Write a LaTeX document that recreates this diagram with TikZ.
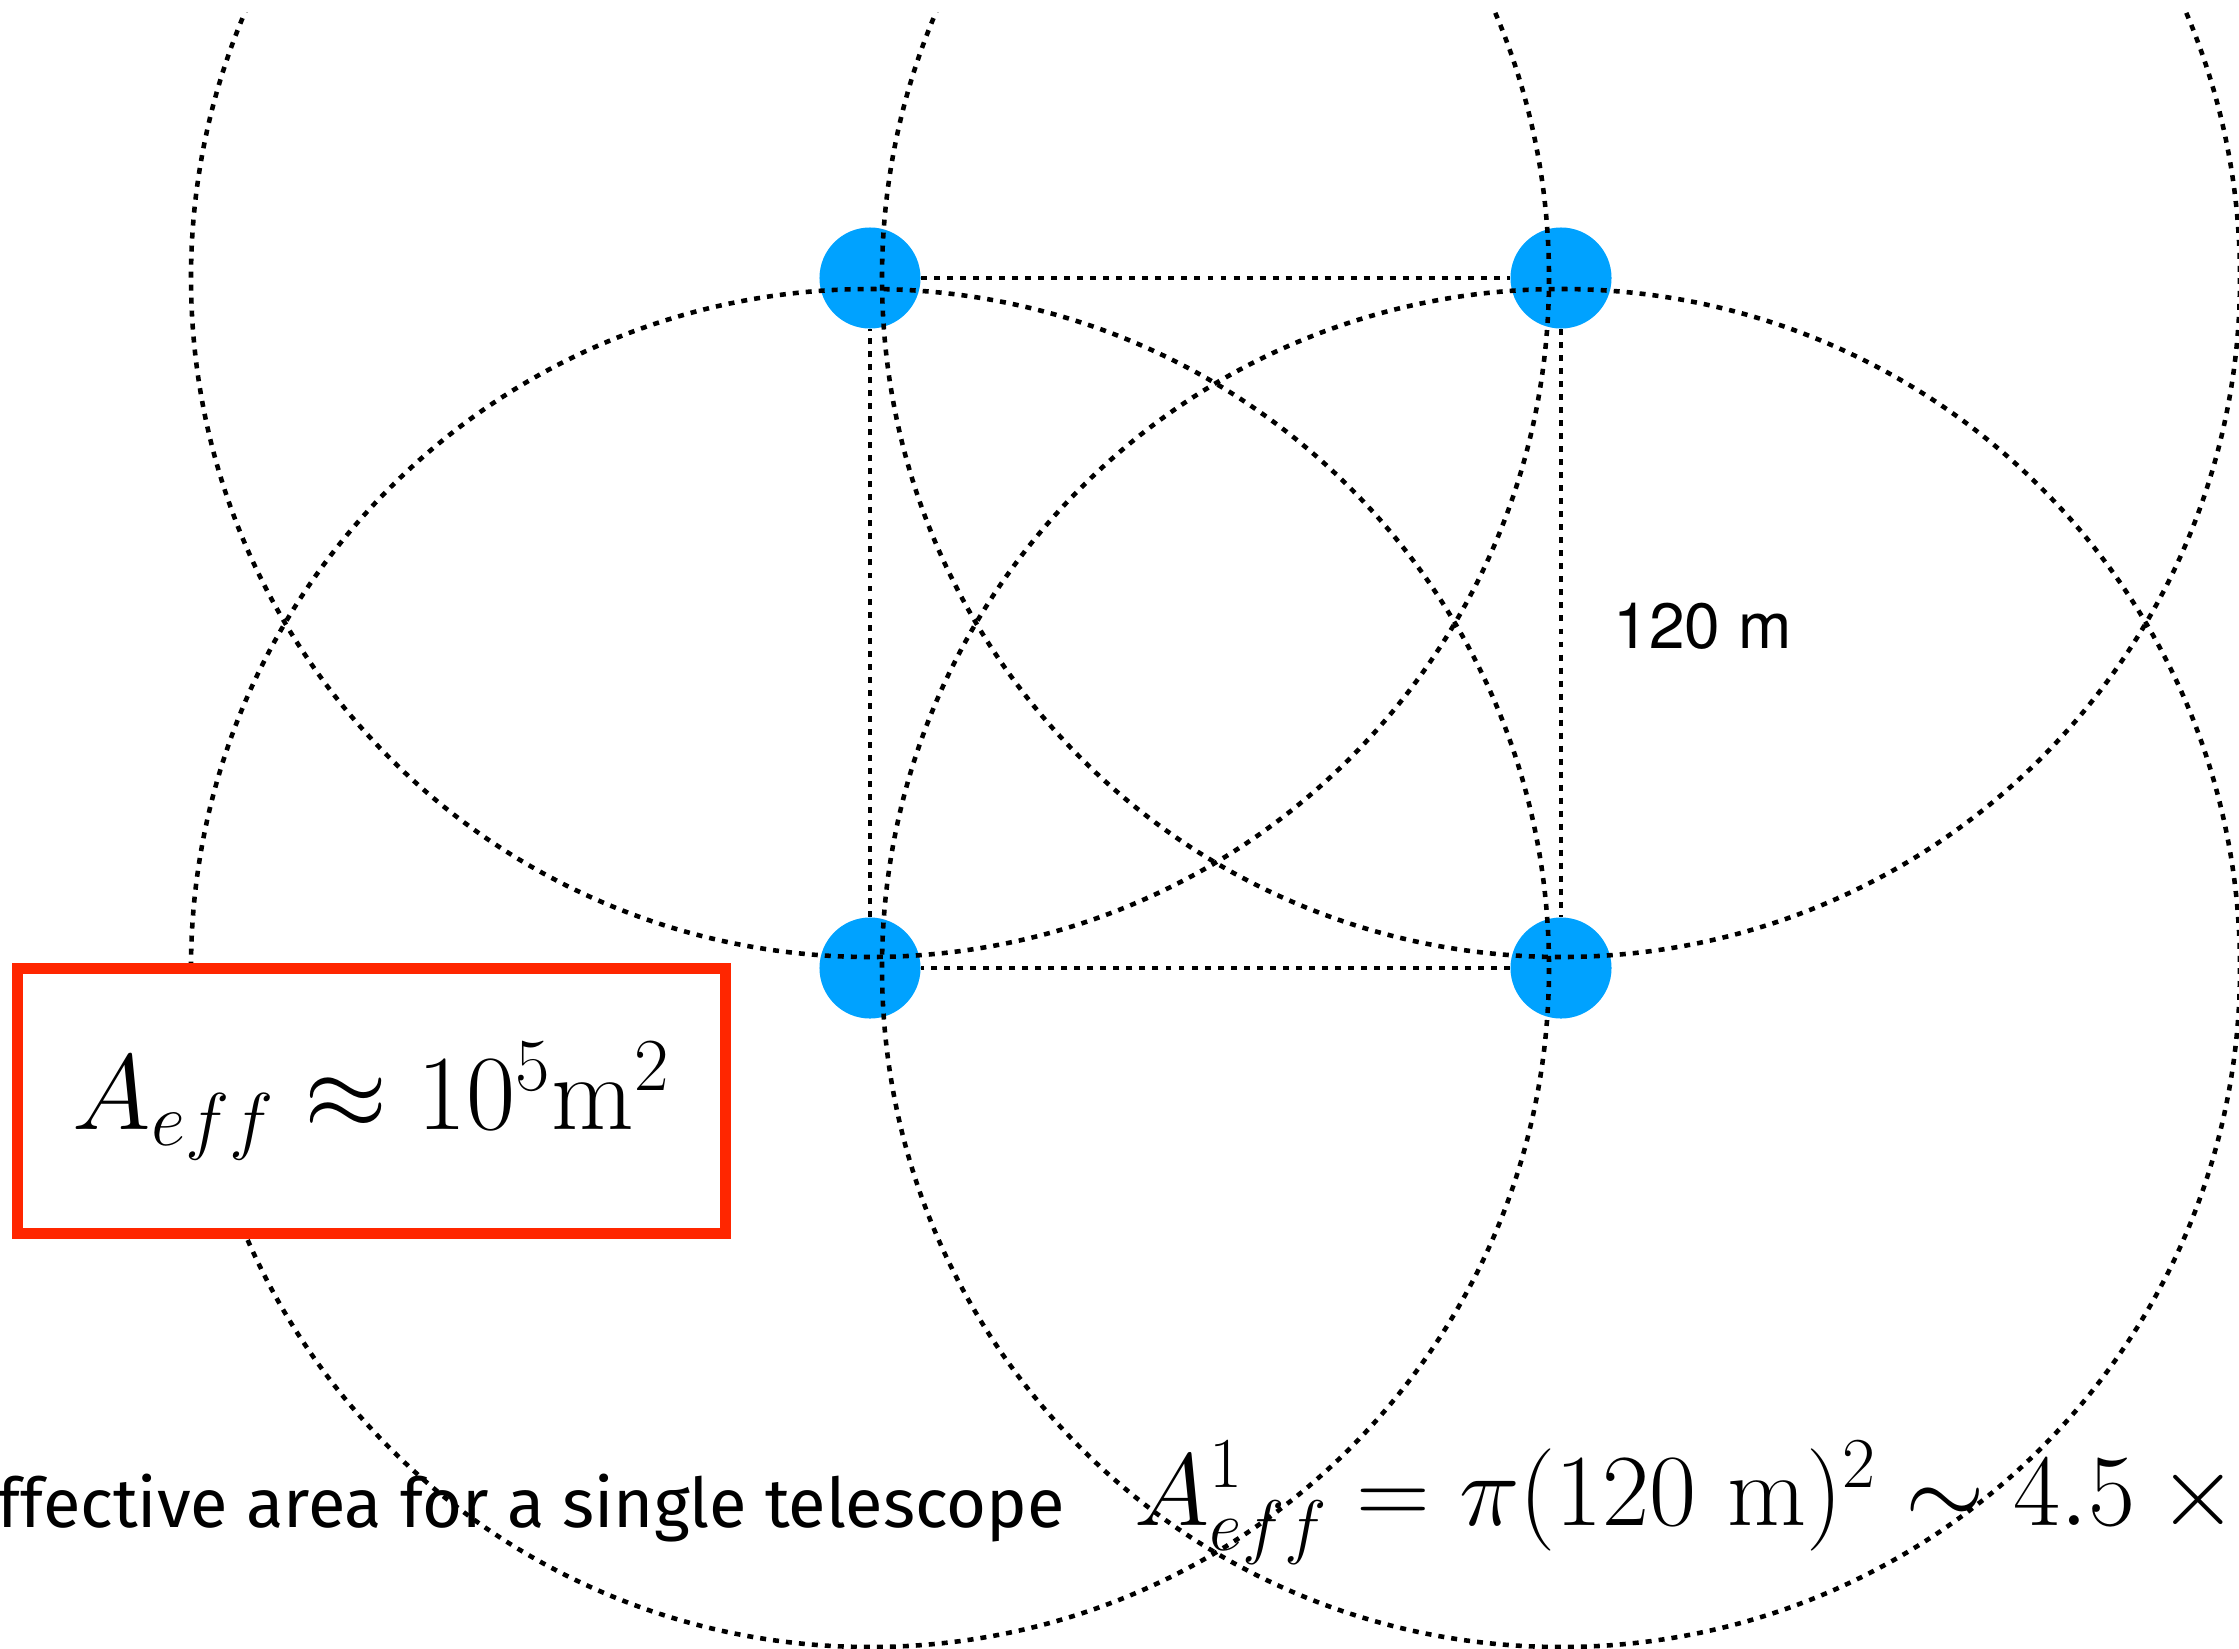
\RequirePackage{fix-cm}
\documentclass[tikz,border=0pt]{standalone}
\usepackage{fontspec}
\newfontfamily\helv{TeX Gyre Heros}
\newfontfamily\handfont{Fira Sans}
\definecolor{scopeblue}{HTML}{00A2FF}
\definecolor{boxred}{HTML}{FF2600}

\begin{document}
\begin{tikzpicture}
  [x=0.01cm, y=-0.01cm,
   telescope/.style={circle, fill=scopeblue, inner sep=0pt, minimum size=1.01cm},
   dotline/.style={line width=1.3pt, dash pattern=on 1.7pt off 2.0pt},
   bigmath/.style={inner sep=0pt, font=\fontsize{29.1}{35}\selectfont}]
  \useasboundingbox (0,0) rectangle (2239,1648);

  \node[telescope] (t1) at (870,278) {};
  \node[telescope] (t2) at (1561,278) {};
  \node[telescope] (t3) at (870,968) {};
  \node[telescope] (t4) at (1561,968) {};

  \foreach \from/\to in {t1/t2, t2/t4, t4/t3, t3/t1}
    \draw[dotline] (\from) -- (\to);

  \begin{scope}
    \clip (0,12) rectangle (2239,1648);
    \foreach \t in {t1, t2, t3, t4}
      \draw[dotline] (\t.center) circle (679);
  \end{scope}

  \node[anchor=base west, inner sep=0pt, font=\helv\fontsize{18.2}{22}\selectfont]
    (side) at (1613,648) {120 m};

  \node[bigmath, draw=boxred, line width=3.1pt, fill=white,
        minimum width=7.08cm, minimum height=2.65cm, font=\fontsize{30.4}{36}\selectfont]
    (total) at (371.5,1101) {$A_{eff} \approx 10^5\mathrm{m}^2$};

  \node[anchor=base west, inner sep=0pt, font=\handfont\fontsize{19.5}{23}\selectfont]
    (single) at (-3,1527) {ffective area for a single telescope};
  \node[bigmath, anchor=base west] (area) at (1134,1525)
    {$A^1_{eff} = \pi(120\ \mathrm{m})^2 \sim 4.5 \times {}$};
\end{tikzpicture}
\end{document}
